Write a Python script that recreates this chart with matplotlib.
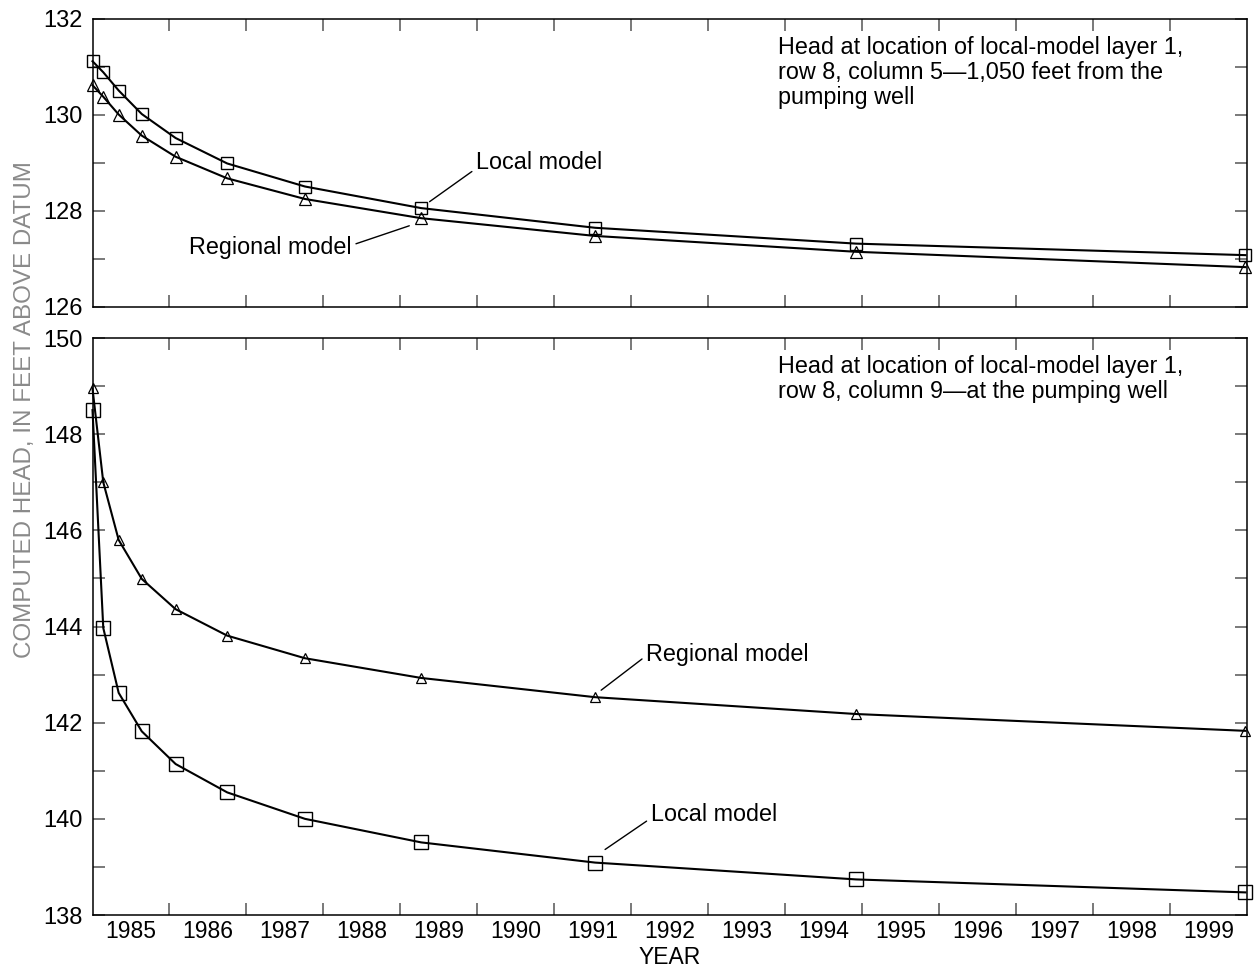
import matplotlib
matplotlib.use("Agg")
import matplotlib.pyplot as plt
from matplotlib.ticker import MultipleLocator, FixedLocator, NullFormatter, FixedFormatter

plt.rcParams['font.family'] = ['Liberation Sans', 'DejaVu Sans']

# Time of each model output (decimal year)
years = [1985.0, 1985.14, 1985.34, 1985.64, 1986.08, 1986.75, 1987.76, 1989.27,
         1991.53, 1994.92, 1999.98]

# Top panel: layer 1, row 8, column 5 (1,050 ft from pumping well)
top_local = [131.11, 130.88, 130.50, 130.01, 129.51, 128.98, 128.50, 128.05,
             127.64, 127.31, 127.07]
top_regional = [130.61, 130.37, 130.00, 129.56, 129.12, 128.67, 128.24, 127.84,
                127.47, 127.14, 126.82]

# Bottom panel: layer 1, row 8, column 9 (at pumping well)
bot_local = [148.50, 143.97, 142.62, 141.82, 141.14, 140.55, 140.00, 139.51,
             139.09, 138.74, 138.47]
bot_regional = [148.95, 147.00, 145.80, 144.99, 144.36, 143.81, 143.34, 142.93,
                142.53, 142.18, 141.83]

year_labels = [str(y) for y in range(1985, 2000)]

W, H = 1254, 969
fig = plt.figure(figsize=(W / 100, H / 100), dpi=100)

def px_axes(left, top, right, bottom):
    return fig.add_axes([left / W, 1 - bottom / H, (right - left) / W, (bottom - top) / H])

ax1 = px_axes(92.5, 18.5, 1247, 306.5)
ax2 = px_axes(92.5, 338, 1247, 915)

YTICK_FS = 17
XTICK_FS = 16.5
TXT_FS = 16.8

def style(ax, ylo, yhi, show_x_labels):
    ax.set_xlim(1985, 2000)
    ax.set_ylim(ylo, yhi)
    for s in ax.spines.values():
        s.set_linewidth(1.1)
        s.set_color('black')
    ax.xaxis.set_major_locator(FixedLocator(list(range(1986, 2000))))
    ax.xaxis.set_major_formatter(NullFormatter())
    ax.yaxis.set_major_locator(MultipleLocator(2))
    ax.yaxis.set_minor_locator(MultipleLocator(1))
    ax.tick_params(axis='both', which='both', direction='in', length=8.5, width=1.1,
                   color='#555555', top=True, right=True)
    ax.tick_params(axis='y', which='major', labelsize=YTICK_FS, pad=7)
    if show_x_labels:
        ax.xaxis.set_minor_locator(FixedLocator([y + 0.5 for y in range(1985, 2000)]))
        ax.xaxis.set_minor_formatter(FixedFormatter(year_labels))
        ax.tick_params(axis='x', which='minor', length=0, labelsize=XTICK_FS, pad=3.5)
    else:
        ax.xaxis.set_minor_locator(FixedLocator([]))

style(ax1, 126, 132, False)
style(ax2, 138, 150, True)

line_kw = dict(color='black', lw=1.5, clip_on=False, zorder=3)
sq_kw = dict(marker='s', markerfacecolor='none', markeredgecolor='black', markeredgewidth=1.0)
tri_kw = dict(marker='^', markerfacecolor='none', markeredgecolor='black', markeredgewidth=0.9)

ax1.plot(years, top_local, markersize=9, **line_kw, **sq_kw)
ax1.plot(years, top_regional, markersize=8, **line_kw, **tri_kw)
ax2.plot(years, bot_local, markersize=10, **line_kw, **sq_kw)
ax2.plot(years, bot_regional, markersize=7.5, **line_kw, **tri_kw)

arrow = dict(arrowstyle='-', lw=1.0, color='black', shrinkA=1, shrinkB=2)

ax1.annotate('Local model', xy=(1989.35, 128.15), xytext=(1989.98, 128.99),
             ha='left', va='center', fontsize=TXT_FS,
             arrowprops=dict(arrow, relpos=(0, 0.25)))
ax1.annotate('Regional model', xy=(1989.15, 127.70), xytext=(1988.37, 127.23),
             ha='right', va='center', fontsize=TXT_FS,
             arrowprops=dict(arrow, relpos=(1, 0.6)))
ax2.annotate('Regional model', xy=(1991.58, 142.64), xytext=(1992.19, 143.41),
             ha='left', va='center', fontsize=TXT_FS,
             arrowprops=dict(arrow, relpos=(0, 0.45)))
ax2.annotate('Local model', xy=(1991.63, 139.33), xytext=(1992.25, 140.08),
             ha='left', va='center', fontsize=TXT_FS,
             arrowprops=dict(arrow, relpos=(0, 0.35)))

ax1.text(778 / W, 1 - 36 / H,
         'Head at location of local-model layer 1,\nrow 8, column 5\u20141,050 feet from the\npumping well',
         transform=fig.transFigure, ha='left', va='top', fontsize=TXT_FS, linespacing=1.12)
ax2.text(778 / W, 1 - 355 / H,
         'Head at location of local-model layer 1,\nrow 8, column 9\u2014at the pumping well',
         transform=fig.transFigure, ha='left', va='top', fontsize=TXT_FS, linespacing=1.12)

fig.text(25 / W, 1 - 410 / H, 'COMPUTED HEAD, IN FEET ABOVE DATUM', rotation=90,
         ha='center', va='center', fontsize=17.4, color='#8a8a8a')
fig.text(670 / W, 1 - 957 / H, 'YEAR', ha='center', va='center', fontsize=16.5)

fig.savefig('out.png', dpi=100)
